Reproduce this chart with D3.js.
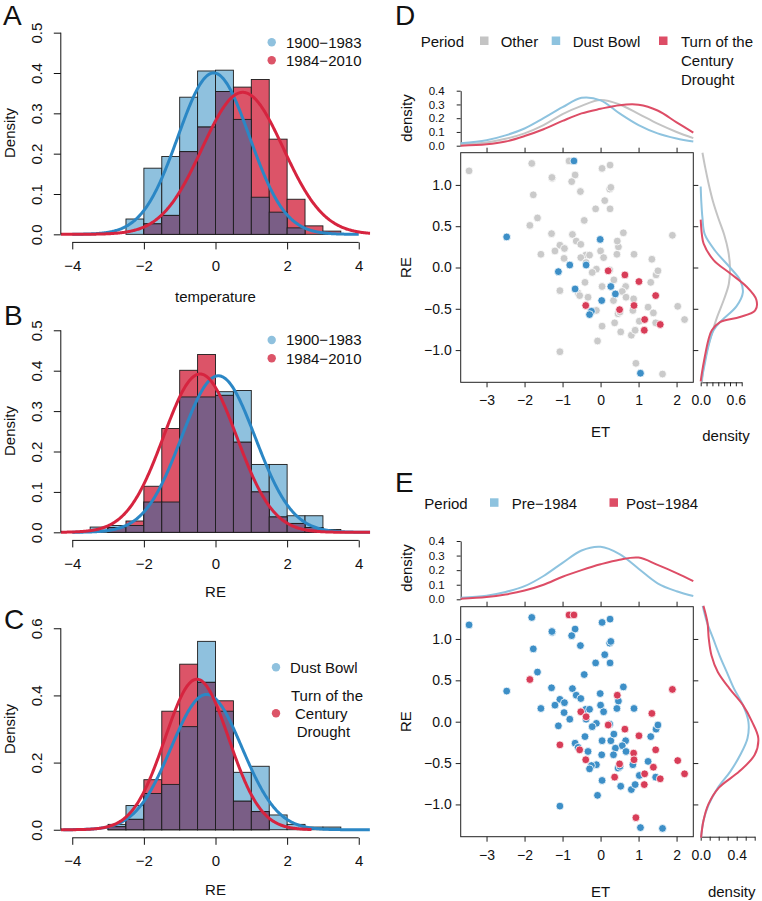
<!DOCTYPE html>
<html><head><meta charset="utf-8">
<script src="https://cdn.jsdelivr.net/npm/d3@7"></script>
<style>
body{margin:0;background:#fff}
text{font-family:"Liberation Sans",Arial,Helvetica,sans-serif;fill:#111}
</style></head>
<body><svg id="c" width="762" height="901"></svg>
<script>
// ---------------- DATA: histograms (bin starts, width 0.5) ----------------
const binsA = [-2.5,-2,-1.5,-1,-0.5,0,0.5,1,1.5,2,2.5,3];
const blueA = [0.038,0.164,0.193,0.34,0.405,0.407,0.285,0.092,0.055,0.016,0,0];
const redA  = [0,0.026,0.047,0.205,0.266,0.354,0.365,0.384,0.236,0.087,0.021,0.008];
const binsB = [-3.5,-3,-2.5,-2,-1.5,-1,-0.5,0,0.5,1,1.5,2,2.5,3];
const blueB = [0.013,0.017,0.017,0.075,0.075,0.335,0.335,0.348,0.351,0.168,0.168,0.041,0.041,0.007];
const redB  = [0,0.012,0.028,0.114,0.257,0.401,0.44,0.339,0.223,0.1,0.038,0.022,0.012,0];
const binsC = [-3,-2.5,-2,-1.5,-1,-0.5,0,0.5,1,1.5,2,2.5,3];
const blueC = [0.016,0.072,0.108,0.135,0.307,0.561,0.353,0.171,0.189,0.044,0.016,0.008,0.008];
const redC  = [0.009,0.031,0.149,0.353,0.493,0.439,0.384,0.085,0.054,0,0,0,0];
// fitted normal curves: [blue, red]
const meanA = [-0.05, 0.76], sdA = [0.997, 1.133], fromA = [-4, -4.32], toA = [4, 4.32];
const meanB = [0.08, -0.43], sdB = [1.03, 1.018], fromB = [-4, -4.32], toB = [4.32, 4.32];
const meanC = [-0.25, -0.52], sdC = [0.99, 0.89], fromC = [-4.25, -4.32], toC = [4.32, 2.69];
const legendA = ["1900\u22121983","1984\u22122010"];
const legendC = ["Dust Bowl","Turn of the","Century","Drought"];

// ---------------- DATA: scatter (ET, RE) ----------------
const ptET = [-3.46,-1.81,-1.27,-1.28,-0.67,-0.76,-0.53,-1.77,0.04,0.25,0.24,0.27,0.11,-0.13,0.25,-1.66,-2.47,-0.43,-1.29,-0.74,
 -0.64,-0.52,-1.07,-1.20,-0.95,-1.57,-0.96,-0.81,-1.11,-0.01,0.60,0.47,0.00,0.08,0.43,0.88,-0.39,-0.29,-0.38,-0.11,
 -0.22,0.24,-0.41,0.04,0.27,0.35,0.66,0.57,-0.67,-0.59,0.39,-0.33,0.67,0.03,0.34,-0.11,-0.24,-0.29,0.46,0.51,
 0.85,1.25,1.32,1.46,1.51,0.04,0.53,0.81,0.91,1.02,1.45,-0.08,-1.07,1.05,1.63,
 -0.83,-0.70,-1.86,1.89,0.44,1.35,-0.52,-0.38,0.20,0.64,1.01,-1.07,-0.55,-0.39,0.87,0.88,0.50,1.45,1.39,1.16,
 1.15,1.57,0.37,2.03,2.21,0.93];
const ptRE = [1.17,1.26,1.08,1.09,1.12,1.04,0.92,0.88,1.20,1.24,0.95,0.97,0.81,0.71,0.71,0.60,0.37,0.57,0.41,0.40,
 0.32,0.28,0.27,0.20,0.23,0.16,0.11,0.03,-0.05,0.34,0.42,0.25,0.20,0.12,0.16,0.16,0.15,0.15,0.03,-0.02,
 -0.06,-0.03,-0.18,-0.23,-0.23,-0.15,-0.23,-0.29,-0.26,-0.31,-0.32,-0.36,-0.36,-0.40,-0.40,-0.52,-0.53,-0.57,-0.56,-0.54,
 -0.52,-0.48,-0.18,-0.09,-0.04,-0.71,-0.78,-0.82,-0.76,-0.65,-0.67,-0.89,-1.02,-1.28,-1.29,
 1.29,1.29,0.51,0.39,0.32,0.10,0.12,0.06,-0.04,-0.09,-0.17,-0.28,-0.34,-0.46,-0.38,-0.46,-0.51,-0.34,-0.55,-0.63,
 -0.76,-0.69,-0.67,-0.47,-0.63,-1.16];
// period for panel D: O = Other, D = Dust Bowl, T = Turn of the Century Drought
const ptPeriod = ("OOOOOOOOOOOOOOOODOOOO"+"OOOOOODDDOOOOOOOODOO"+"OOOD"+"OOODODOODOODDOOOOO"+"OOOOOOOOOODOOD"+
 "OOOOOOTTTOOTOTTTOTTTOOOOOT").split("");
// era for panel E
const ptEra = d3.range(ptET.length).map(i => i < 75 ? "Pre-1984" : "Post-1984");

// ---------------- DATA: marginal densities ----------------
const topGridET = [-3.68,-3,-2.5,-2,-1.5,-1,-0.5,0,0.5,1,1.5,2,2.44];
const topDOther = [0.012,0.024,0.05,0.09,0.15,0.23,0.29,0.332,0.30,0.232,0.16,0.10,0.055];
const topDDust  = [0.017,0.04,0.075,0.125,0.2,0.28,0.348,0.33,0.235,0.15,0.09,0.053,0.03];
const topDTurn  = [0.0,0.01,0.03,0.07,0.12,0.18,0.235,0.268,0.295,0.298,0.256,0.17,0.095];
const topEPre   = [0.011,0.025,0.05,0.09,0.16,0.25,0.335,0.36,0.31,0.21,0.11,0.055,0.022];
const topEPost  = [0.003,0.015,0.033,0.06,0.1,0.155,0.2,0.24,0.272,0.286,0.236,0.18,0.125];

const rightDOtherRE = [1.39,1.2,1.0,0.8,0.6,0.4,0.2,0,-0.2,-0.4,-0.6,-0.8,-1.0,-1.2,-1.39];
const rightDOther   = [0.03,0.08,0.14,0.21,0.30,0.40,0.47,0.50,0.48,0.39,0.28,0.19,0.11,0.05,0.02];
const rightDDustRE  = [0.98,0.8,0.6,0.4,0.2,0,-0.15,-0.3,-0.47,-0.64,-0.76,-0.96,-1.2,-1.38];
const rightDDust    = [0.0,0.01,0.03,0.07,0.25,0.5,0.67,0.72,0.61,0.36,0.22,0.13,0.06,0.01];
const rightDTurnRE  = [0.58,0.4,0.29,0.09,-0.07,-0.23,-0.39,-0.52,-0.6,-0.66,-0.76,-0.88,-1.08,-1.28,-1.38];
const rightDTurn    = [0.0,0.02,0.05,0.22,0.5,0.78,0.95,0.93,0.67,0.33,0.19,0.13,0.07,0.02,0.0];
const rightERE      = [1.4,1.2,1.0,0.8,0.6,0.4,0.2,0,-0.2,-0.4,-0.6,-0.8,-1.0,-1.2,-1.4];
const rightEPre     = [0.022,0.07,0.14,0.21,0.29,0.37,0.47,0.53,0.52,0.44,0.33,0.19,0.09,0.03,0.004];
const rightEPost    = [0.03,0.075,0.09,0.12,0.19,0.32,0.47,0.57,0.64,0.60,0.43,0.2,0.085,0.03,0.004];

// ---------------- STYLE ----------------
const HB = "#8fc1de", HR = "#dc5468", HP = "#7a5e86";
const CB = "#2b87c5", CR = "#d6243f";
const LG = "#c4c4c4", LB = "#8ec3df", LR = "#dd4d66";
const PG = "#cacaca", PB = "#3d8fc7", PR = "#d83d58";
const svg = d3.select("#c");
const minus = s => String(s).replace("-", "\u2212");

function label(x, y, txt, size, opts = {}) {
  const t = svg.append("text").attr("x", x).attr("y", y).attr("font-size", size).text(txt);
  if (opts.anchor) t.attr("text-anchor", opts.anchor);
  if (opts.rot) t.attr("transform", `rotate(-90,${x},${y})`);
  return t;
}

function drawHist(id, starts, blue, red, mean, sd, from, to, ylo, yhi, yTicks, top, bottom) {
  const xs = d3.scaleLinear([-4.32, 4.32], [60.8, 370.2]);
  const ys = d3.scaleLinear([ylo, yhi], [bottom, top]);
  const g = svg.append("g");
  const bins = starts.map((s, i) => ({ s, b: blue[i], r: red[i], m: Math.min(blue[i], red[i]) }));
  const layer = (key, fill) => g.append("g").selectAll("rect").data(bins.filter(d => d[key] > 0)).join("rect")
    .attr("x", d => xs(d.s)).attr("width", d => xs(d.s + 0.5) - xs(d.s))
    .attr("y", d => ys(d[key])).attr("height", d => ys(0) - ys(d[key]))
    .attr("fill", fill).attr("stroke", "#1c1c1c").attr("stroke-width", 0.9);
  layer("b", HB); layer("r", HR); layer("m", HP);
  const cid = "clip" + id;
  svg.append("clipPath").attr("id", cid).append("rect")
    .attr("x", xs(-4.32)).attr("y", top).attr("width", xs(4.32) - xs(-4.32)).attr("height", bottom - top);
  const line = d3.line().x(d => xs(d[0])).y(d => ys(d[1]));
  [CB, CR].forEach((col, k) => {
    const pts = d3.range(from[k], to[k] + 1e-9, 0.02).map(x =>
      [x, Math.exp(-((x - mean[k]) ** 2) / (2 * sd[k] ** 2)) / (sd[k] * Math.sqrt(2 * Math.PI))]);
    g.append("path").datum(pts).attr("d", line).attr("fill", "none").attr("stroke", col)
      .attr("stroke-width", 3).attr("clip-path", `url(#${cid})`);
  });
  // x axis
  const ax = g.append("g").attr("transform", `translate(0,${bottom})`)
    .call(d3.axisBottom(xs).tickValues([-4, -2, 0, 2, 4]).tickSize(7).tickFormat(minus));
  ax.select(".domain").remove();
  ax.append("line").attr("x1", xs(-4)).attr("x2", xs(4)).attr("stroke", "#111");
  ax.selectAll("text").attr("font-size", 15).attr("font-family", null).attr("y", 23).attr("dy", "0.35em").attr("fill", "#111");
  ax.selectAll(".tick line").attr("stroke", "#111");
  // y axis
  const ay = g.append("g").attr("transform", `translate(${xs(-4.32)},0)`)
    .call(d3.axisLeft(ys).tickValues(yTicks).tickSize(7).tickFormat(d3.format(".1f")));
  ay.select(".domain").remove();
  ay.append("line").attr("y1", ys(yTicks[0])).attr("y2", ys(yTicks[yTicks.length - 1])).attr("stroke", "#111");
  ay.selectAll(".tick line").attr("stroke", "#111");
  ay.selectAll("text").attr("font-size", 15).attr("font-family", null).attr("fill", "#111")
    .attr("x", 0).attr("y", -24).attr("dy", "0.35em").attr("text-anchor", "middle").attr("transform", "rotate(-90)");
  return xs;
}

// ---- Panel A ----
drawHist("A", binsA, blueA, redA, meanA, sdA, fromA, toA, -0.02, 0.52, [0, 0.1, 0.2, 0.3, 0.4, 0.5], 24.6, 242.4);
label(3, 25, "A", 28);
label(14.5, 133, "Density", 15, { anchor: "middle", rot: true });
label(215.5, 302, "temperature", 15, { anchor: "middle" });
svg.append("circle").attr("cx", 271.7).attr("cy", 42.3).attr("r", 4.2).attr("fill", HB);
svg.append("circle").attr("cx", 271.7).attr("cy", 60.3).attr("r", 4.2).attr("fill", HR);
label(286, 47.6, legendA[0], 15); label(286, 65.6, legendA[1], 15);

// ---- Panel B ----
drawHist("B", binsB, blueB, redB, meanB, sdB, fromB, toB, -0.02, 0.52, [0, 0.1, 0.2, 0.3, 0.4, 0.5], 322.2, 540.4);
label(4, 325, "B", 28);
label(14.5, 431, "Density", 15, { anchor: "middle", rot: true });
label(215.5, 597, "RE", 15, { anchor: "middle" });
svg.append("circle").attr("cx", 271.7).attr("cy", 340).attr("r", 4.2).attr("fill", HB);
svg.append("circle").attr("cx", 271.7).attr("cy", 358.3).attr("r", 4.2).attr("fill", HR);
label(286, 345.3, legendA[0], 15); label(286, 363.6, legendA[1], 15);

// ---- Panel C ----
drawHist("C", binsC, blueC, redC, meanC, sdC, fromC, toC, -0.024, 0.624, [0, 0.2, 0.4, 0.6], 620.2, 837.8);
label(4, 629, "C", 28);
label(14.5, 729, "Density", 15, { anchor: "middle", rot: true });
label(215.5, 895, "RE", 15, { anchor: "middle" });
svg.append("circle").attr("cx", 276).attr("cy", 667.3).attr("r", 4.2).attr("fill", HB);
svg.append("circle").attr("cx", 276).attr("cy", 713.3).attr("r", 4.2).attr("fill", HR);
label(290, 672.6, legendC[0], 15);
label(291, 701, legendC[1], 15);
label(295, 719, legendC[2], 15);
label(296.7, 737, legendC[3], 15);

// ---------------- scatter panels ----------------
function drawScatter(cfg) {
  const xs = d3.scaleLinear([-3.68, 2.44], [460.7, 693.3]);
  const ys = d3.scaleLinear([-1.39, 1.39], [cfg.bottom, cfg.top]);
  const g = svg.append("g");
  g.append("rect").attr("x", 460.7).attr("y", cfg.top).attr("width", 693.3 - 460.7).attr("height", cfg.bottom - cfg.top)
    .attr("fill", "none").attr("stroke", "#222").attr("stroke-width", 1);
  const styleAxis = (a, size) => {
    a.select(".domain").remove();
    a.selectAll(".tick line").attr("stroke", "#222");
    a.selectAll("text").attr("font-size", size).attr("font-family", null).attr("fill", "#111");
  };
  const ab = g.append("g").attr("transform", `translate(0,${cfg.bottom})`)
    .call(d3.axisBottom(xs).tickValues([-3, -2, -1, 0, 1, 2]).tickSize(5).tickFormat(minus));
  styleAxis(ab, 14); ab.selectAll("text").attr("y", 18).attr("dy", "0.35em");
  const at = g.append("g").attr("transform", `translate(0,${cfg.top})`)
    .call(d3.axisTop(xs).tickValues([-3, -2, -1, 0, 1, 2]).tickSize(5).tickFormat(""));
  styleAxis(at, 14);
  const al = g.append("g").attr("transform", `translate(460.7,0)`)
    .call(d3.axisLeft(ys).tickValues([-1, -0.5, 0, 0.5, 1]).tickSize(5).tickPadding(4).tickFormat(d => minus(d3.format(".1f")(d))));
  styleAxis(al, 14);
  const ar = g.append("g").attr("transform", `translate(693.3,0)`)
    .call(d3.axisRight(ys).tickValues([-1, -0.5, 0, 0.5, 1]).tickSize(5).tickFormat(""));
  styleAxis(ar, 14);
  // points
  const idx = d3.range(ptET.length);
  cfg.groups.forEach(([key, col]) => {
    g.append("g").selectAll("circle").data(idx.filter(i => cfg.cat(i) === key)).join("circle")
      .attr("cx", i => xs(ptET[i])).attr("cy", i => ys(ptRE[i])).attr("r", 3.9)
      .attr("fill", col).attr("stroke", "#fff").attr("stroke-width", 0.8);
  });
  // top density
  const yt = d3.scaleLinear([0, 0.4], [cfg.t0, cfg.t4]);
  const atl = g.append("g").attr("transform", `translate(460.7,0)`)
    .call(d3.axisLeft(yt).tickValues([0, 0.1, 0.2, 0.3, 0.4]).tickSize(4).tickSizeOuter(0).tickPadding(12).tickFormat(d3.format(".1f")));
  atl.select(".domain").attr("stroke", "#222");
  atl.selectAll(".tick line").attr("stroke", "#222");
  atl.selectAll("text").attr("font-size", 11.5).attr("font-family", null).attr("fill", "#111");
  const tl = d3.line().x((d, i) => xs(topGridET[i])).y(d => yt(d)).curve(d3.curveCatmullRom);
  cfg.topCurves.forEach(([arr, col]) => g.append("path").datum(arr).attr("d", tl)
    .attr("fill", "none").attr("stroke", col).attr("stroke-width", 2));
  // right density
  const xr = d3.scaleLinear([0, cfg.rMax], [700.7, cfg.rX]);
  const arb = g.append("g").attr("transform", `translate(0,${cfg.bottom})`)
    .call(d3.axisBottom(xr).tickValues(d3.range(0, cfg.rMax + 0.01, 0.1)).tickSize(4).tickSizeOuter(0)
      .tickFormat(d => cfg.rLabels.some(v => Math.abs(v - d) < 1e-6) ? d3.format(".1f")(d) : ""));
  arb.select(".domain").attr("stroke", "#222");
  arb.selectAll(".tick line").attr("stroke", "#222");
  arb.selectAll("text").attr("font-size", 14).attr("font-family", null).attr("fill", "#111").attr("y", 18).attr("dy", "0.35em");
  cfg.rightCurves.forEach(([reArr, dArr, col]) => {
    const rl = d3.line().x(d => xr(d)).y((d, i) => ys(reArr[i])).curve(d3.curveCatmullRom);
    g.append("path").datum(dArr).attr("d", rl).attr("fill", "none").attr("stroke", col).attr("stroke-width", 2);
  });
}

// ---- Panel D ----
drawScatter({
  top: 152.7, bottom: 382.3, t0: 145.7, t4: 90.7, rMax: 0.7, rX: 741.7, rLabels: [0, 0.6],
  cat: i => ptPeriod[i],
  groups: [["O", PG], ["D", PB], ["T", PR]],
  topCurves: [[topDOther, LG], [topDDust, LB], [topDTurn, LR]],
  rightCurves: [[rightDOtherRE, rightDOther, LG], [rightDDustRE, rightDDust, LB], [rightDTurnRE, rightDTurn, LR]]
});
label(395, 25, "D", 28);
label(420.7, 47, "Period", 15);
svg.append("rect").attr("x", 480).attr("y", 36.5).attr("width", 8.5).attr("height", 8.5).attr("fill", LG);
label(500.7, 47, "Other", 15);
svg.append("rect").attr("x", 551.7).attr("y", 36.5).attr("width", 8.5).attr("height", 8.5).attr("fill", LB);
label(572.7, 47, "Dust Bowl", 15);
svg.append("rect").attr("x", 659).attr("y", 36.5).attr("width", 8.5).attr("height", 8.5).attr("fill", LR);
label(681, 47, "Turn of the", 15);
label(681, 66, "Century", 15);
label(681, 84.5, "Drought", 15);
label(411.5, 118, "density", 15, { anchor: "middle", rot: true });
label(410.5, 267.5, "RE", 15, { anchor: "middle", rot: true });
label(600.5, 437, "ET", 15, { anchor: "middle" });
label(726, 441, "density", 15, { anchor: "middle" });

// ---- Panel E ----
drawScatter({
  top: 606.7, bottom: 836.7, t0: 599.3, t4: 541, rMax: 0.6, rX: 754.7, rLabels: [0, 0.4],
  cat: i => ptEra[i],
  groups: [["Pre-1984", PB], ["Post-1984", PR]],
  topCurves: [[topEPre, LB], [topEPost, LR]],
  rightCurves: [[rightERE, rightEPre, LB], [rightERE, rightEPost, LR]]
});
label(395, 492, "E", 28);
label(424.3, 508.5, "Period", 15);
svg.append("rect").attr("x", 490).attr("y", 498.3).attr("width", 8.5).attr("height", 8.5).attr("fill", LB);
label(511.7, 508.5, "Pre\u22121984", 15);
svg.append("rect").attr("x", 609.5).attr("y", 498.3).attr("width", 8.5).attr("height", 8.5).attr("fill", LR);
label(626, 508.5, "Post\u22121984", 15);
label(411.5, 568, "density", 15, { anchor: "middle", rot: true });
label(411.5, 721.7, "RE", 15, { anchor: "middle", rot: true });
label(600.5, 897, "ET", 15, { anchor: "middle" });
label(731.7, 897, "density", 15, { anchor: "middle" });
</script></body></html>
